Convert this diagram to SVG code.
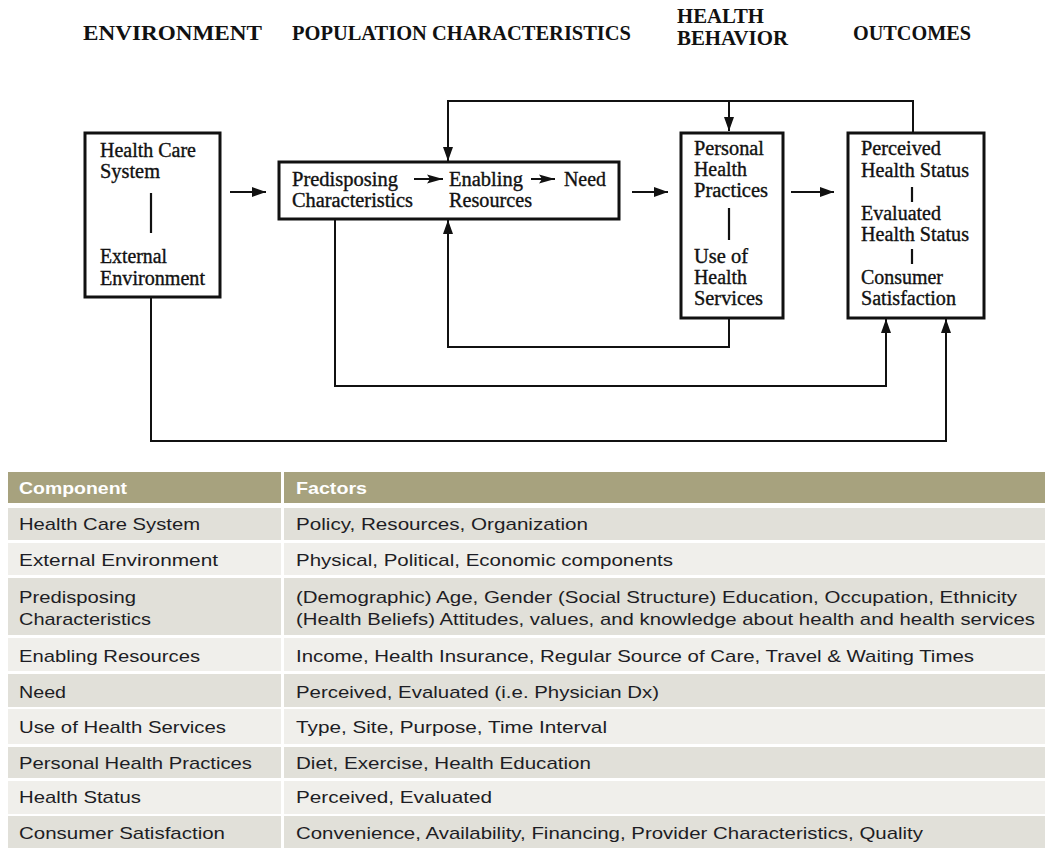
<svg xmlns="http://www.w3.org/2000/svg" width="1045" height="848" viewBox="0 0 1045 848">
  <defs>
    <marker id="arrow" markerUnits="userSpaceOnUse" markerWidth="14" markerHeight="10" refX="14" refY="5" orient="auto">
      <path d="M0,0 L14,5 L0,10 z" fill="#111"/>
    </marker>
    <marker id="arrow-small" markerUnits="userSpaceOnUse" markerWidth="16" markerHeight="10" refX="16" refY="5" orient="auto">
      <path d="M0,0.5 L16,5 L0,9.5 L3,5 z" fill="#111"/>
    </marker>
    <style>
      .head { font-family: "Liberation Serif", "Times New Roman", serif; font-weight: bold; font-size: 21px; fill: #111; }
      .box { fill: #fff; stroke: #111; stroke-width: 3; }
      .lbl { font-family: "Liberation Serif", "Times New Roman", serif; font-size: 20px; fill: #111; stroke: #111; stroke-width: 0.35; }
      .sep { stroke: #111; stroke-width: 2.2; }
      .conn { fill: none; stroke: #111; stroke-width: 2; }
      .th { fill: #a7a27e; }
      .dark { fill: #e1e0d9; }
      .light { fill: #f0efeb; }
      .tht { font-family: "Liberation Sans", Arial, sans-serif; font-weight: bold; font-size: 17px; fill: #fff; }
      .td { font-family: "Liberation Sans", Arial, sans-serif; font-size: 17px; fill: #1d1d24; }
    </style>
  </defs>

  <rect width="1045" height="848" fill="#fff"/>

  <!-- column headings -->
  <g id="headings">
    <text class="head" x="83" y="40" textLength="179" lengthAdjust="spacingAndGlyphs">ENVIRONMENT</text>
    <text class="head" x="292" y="40" textLength="339" lengthAdjust="spacingAndGlyphs">POPULATION CHARACTERISTICS</text>
    <text class="head" x="677" y="23" textLength="87" lengthAdjust="spacingAndGlyphs">HEALTH</text>
    <text class="head" x="677" y="45" textLength="111" lengthAdjust="spacingAndGlyphs">BEHAVIOR</text>
    <text class="head" x="853" y="40" textLength="118" lengthAdjust="spacingAndGlyphs">OUTCOMES</text>
  </g>

  <!-- connectors -->
  <g id="connectors">
    <line class="conn" x1="230" y1="192" x2="266" y2="192" marker-end="url(#arrow)"/>
    <line class="conn" x1="632" y1="192" x2="668" y2="192" marker-end="url(#arrow)"/>
    <line class="conn" x1="791" y1="192" x2="834" y2="192" marker-end="url(#arrow)"/>
    <path class="conn" d="M913,132 V101 H448 V161" marker-end="url(#arrow)"/>
    <path class="conn" d="M729,101 V131" marker-end="url(#arrow)"/>
    <path class="conn" d="M729,318 V347 H448 V220" marker-end="url(#arrow)"/>
    <path class="conn" d="M335,219 V386 H886 V319" marker-end="url(#arrow)"/>
    <path class="conn" d="M151,297 V441 H946 V319" marker-end="url(#arrow)"/>
  </g>

  <!-- environment -->
  <g id="environment">
    <rect class="box" x="85" y="133" width="135" height="164"/>
    <text class="lbl" x="100" y="157" textLength="96" lengthAdjust="spacingAndGlyphs">Health Care</text>
    <text class="lbl" x="100" y="178" textLength="60" lengthAdjust="spacingAndGlyphs">System</text>
    <line class="sep" x1="151" y1="193" x2="151" y2="233"/>
    <text class="lbl" x="100" y="263" textLength="67" lengthAdjust="spacingAndGlyphs">External</text>
    <text class="lbl" x="100" y="285" textLength="105" lengthAdjust="spacingAndGlyphs">Environment</text>
  </g>

  <!-- population characteristics, with the inner flow arrows -->
  <g id="population">
    <rect class="box" x="279" y="162" width="340" height="57"/>
    <text class="lbl" x="292" y="186" textLength="106" lengthAdjust="spacingAndGlyphs">Predisposing</text>
    <text class="lbl" x="292" y="207" textLength="121" lengthAdjust="spacingAndGlyphs">Characteristics</text>
    <text class="lbl" x="449" y="186" textLength="74" lengthAdjust="spacingAndGlyphs">Enabling</text>
    <text class="lbl" x="449" y="207" textLength="83" lengthAdjust="spacingAndGlyphs">Resources</text>
    <text class="lbl" x="564" y="186" textLength="42" lengthAdjust="spacingAndGlyphs">Need</text>
    <line class="conn" x1="414" y1="179" x2="443" y2="179" marker-end="url(#arrow-small)"/>
    <line class="conn" x1="531" y1="179" x2="555" y2="179" marker-end="url(#arrow-small)"/>
  </g>

  <!-- health behavior -->
  <g id="behavior">
    <rect class="box" x="681" y="133" width="102" height="185"/>
    <text class="lbl" x="694" y="155" textLength="70" lengthAdjust="spacingAndGlyphs">Personal</text>
    <text class="lbl" x="694" y="176" textLength="53" lengthAdjust="spacingAndGlyphs">Health</text>
    <text class="lbl" x="694" y="197" textLength="74" lengthAdjust="spacingAndGlyphs">Practices</text>
    <line class="sep" x1="729" y1="208" x2="729" y2="240"/>
    <text class="lbl" x="694" y="263" textLength="54" lengthAdjust="spacingAndGlyphs">Use of</text>
    <text class="lbl" x="694" y="284" textLength="53" lengthAdjust="spacingAndGlyphs">Health</text>
    <text class="lbl" x="694" y="305" textLength="69" lengthAdjust="spacingAndGlyphs">Services</text>
  </g>

  <!-- outcomes -->
  <g id="outcomes">
    <rect class="box" x="848" y="133" width="136" height="185"/>
    <text class="lbl" x="861" y="155" textLength="80" lengthAdjust="spacingAndGlyphs">Perceived</text>
    <text class="lbl" x="861" y="177" textLength="108" lengthAdjust="spacingAndGlyphs">Health Status</text>
    <line class="sep" x1="912" y1="187" x2="912" y2="202"/>
    <text class="lbl" x="861" y="220" textLength="80" lengthAdjust="spacingAndGlyphs">Evaluated</text>
    <text class="lbl" x="861" y="241" textLength="108" lengthAdjust="spacingAndGlyphs">Health Status</text>
    <line class="sep" x1="912" y1="249" x2="912" y2="264"/>
    <text class="lbl" x="861" y="284" textLength="82" lengthAdjust="spacingAndGlyphs">Consumer</text>
    <text class="lbl" x="861" y="305" textLength="95" lengthAdjust="spacingAndGlyphs">Satisfaction</text>
  </g>

  <!-- component / factors table -->
  <g id="table">
    <rect class="th" x="8" y="472" width="273" height="31"/>
    <rect class="th" x="284" y="472" width="761" height="31"/>
    <text class="tht" x="19" y="494" textLength="108" lengthAdjust="spacingAndGlyphs">Component</text>
    <text class="tht" x="296" y="494" textLength="71" lengthAdjust="spacingAndGlyphs">Factors</text>

    <rect class="dark" x="8" y="508" width="273" height="32"/>
    <rect class="dark" x="284" y="508" width="761" height="32"/>
    <text class="td" x="19" y="530" textLength="181" lengthAdjust="spacingAndGlyphs">Health Care System</text>
    <text class="td" x="296" y="530" textLength="292" lengthAdjust="spacingAndGlyphs">Policy, Resources,  Organization</text>

    <rect class="light" x="8" y="543" width="273" height="32"/>
    <rect class="light" x="284" y="543" width="761" height="32"/>
    <text class="td" x="19" y="566" textLength="199" lengthAdjust="spacingAndGlyphs">External Environment</text>
    <text class="td" x="296" y="566" textLength="377" lengthAdjust="spacingAndGlyphs">Physical, Political, Economic components</text>

    <rect class="dark" x="8" y="578" width="273" height="57"/>
    <rect class="dark" x="284" y="578" width="761" height="57"/>
    <text class="td" x="19" y="603" textLength="117" lengthAdjust="spacingAndGlyphs">Predisposing</text>
    <text class="td" x="19" y="625" textLength="132" lengthAdjust="spacingAndGlyphs">Characteristics</text>
    <text class="td" x="296" y="603" textLength="721" lengthAdjust="spacingAndGlyphs">(Demographic) Age, Gender (Social Structure) Education, Occupation, Ethnicity</text>
    <text class="td" x="296" y="625" textLength="739" lengthAdjust="spacingAndGlyphs">(Health Beliefs) Attitudes, values, and knowledge about health and health services</text>

    <rect class="light" x="8" y="638" width="273" height="33"/>
    <rect class="light" x="284" y="638" width="761" height="33"/>
    <text class="td" x="19" y="662" textLength="181" lengthAdjust="spacingAndGlyphs">Enabling Resources</text>
    <text class="td" x="296" y="662" textLength="678" lengthAdjust="spacingAndGlyphs">Income, Health Insurance, Regular Source of Care,  Travel &amp; Waiting Times</text>

    <rect class="dark" x="8" y="674" width="273" height="33"/>
    <rect class="dark" x="284" y="674" width="761" height="33"/>
    <text class="td" x="19" y="698" textLength="47" lengthAdjust="spacingAndGlyphs">Need</text>
    <text class="td" x="296" y="698" textLength="363" lengthAdjust="spacingAndGlyphs">Perceived, Evaluated (i.e. Physician Dx)</text>

    <rect class="light" x="8" y="709" width="273" height="35"/>
    <rect class="light" x="284" y="709" width="761" height="35"/>
    <text class="td" x="19" y="733" textLength="207" lengthAdjust="spacingAndGlyphs">Use  of Health Services</text>
    <text class="td" x="296" y="733" textLength="311" lengthAdjust="spacingAndGlyphs">Type, Site, Purpose,  Time Interval</text>

    <rect class="dark" x="8" y="747" width="273" height="31"/>
    <rect class="dark" x="284" y="747" width="761" height="31"/>
    <text class="td" x="19" y="769" textLength="233" lengthAdjust="spacingAndGlyphs">Personal Health Practices</text>
    <text class="td" x="296" y="769" textLength="295" lengthAdjust="spacingAndGlyphs">Diet, Exercise,  Health Education</text>

    <rect class="light" x="8" y="781" width="273" height="33"/>
    <rect class="light" x="284" y="781" width="761" height="33"/>
    <text class="td" x="19" y="803" textLength="122" lengthAdjust="spacingAndGlyphs">Health Status</text>
    <text class="td" x="296" y="803" textLength="196" lengthAdjust="spacingAndGlyphs">Perceived, Evaluated</text>

    <rect class="dark" x="8" y="816" width="273" height="32"/>
    <rect class="dark" x="284" y="816" width="761" height="32"/>
    <text class="td" x="19" y="839" textLength="206" lengthAdjust="spacingAndGlyphs">Consumer Satisfaction</text>
    <text class="td" x="296" y="839" textLength="627" lengthAdjust="spacingAndGlyphs">Convenience, Availability, Financing, Provider Characteristics, Quality</text>
  </g>
</svg>
